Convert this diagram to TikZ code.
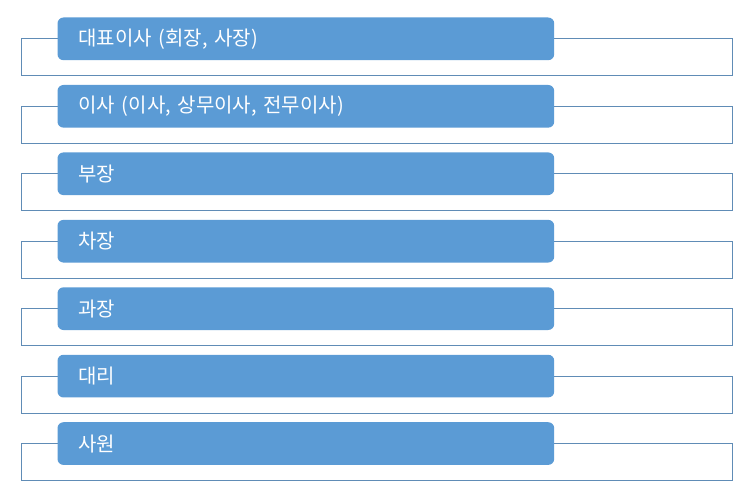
\documentclass[tikz,border=0pt]{standalone}
\usepackage{fontspec}
\setmainfont{Noto Sans CJK KR}
\definecolor{boxblue}{RGB}{91,155,213}
\definecolor{lineblue}{RGB}{96,140,182}
\tikzset{
  outline/.style={draw=lineblue, line width=1pt, fill=white, rectangle, anchor=north west,
    minimum width=711pt, minimum height=37pt, inner sep=0pt},
  rankbox/.style={fill=boxblue, rounded corners=6pt, anchor=north west, text=white,
    minimum height=42.7pt, inner xsep=21pt, inner ysep=0pt, text width=454.7pt, align=left,
    font=\fontsize{20pt}{23pt}\selectfont}
}
\begin{document}
\begin{tikzpicture}[x=1pt,y=-1pt]
\useasboundingbox (0,0) rectangle (754,500);
\foreach \i/\t in {0/{대표이사 (회장, 사장)},1/{이사 (이사, 상무이사, 전무이사)},2/{부장},3/{차장},4/{과장},5/{대리},6/{사원}}{
  \pgfmathsetmacro{\top}{17.3+67.45*\i}
  \node[outline] (r\i) at (21.3,\top+21) {};
  \node[rankbox] (b\i) at (57.3,\top) {\t};
}
\end{tikzpicture}
\end{document}
